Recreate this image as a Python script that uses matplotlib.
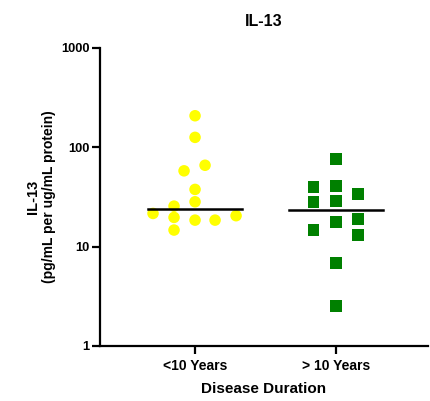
import matplotlib
matplotlib.use("Agg")
import matplotlib.pyplot as plt
import matplotlib.ticker as mticker
import numpy as np

plt.rcParams['font.family'] = ['Liberation Sans', 'DejaVu Sans']

# data
groups = ['<10 Years', '> 10 Years']
under10 = [208, 126, 58, 66, 37.7, 28.3, 25.6, 21.6, 19.7, 18.5, 18.5, 20.5, 14.7]
under10_offsets = [0, 0, -0.078, 0.071, 0, 0, -0.149, -0.298, -0.149, 0, 0.142, 0.291, -0.149]
over10 = [76, 40, 41, 33.9, 28.3, 29, 17.7, 18.8, 14.7, 13.2, 6.8, 2.5]
over10_offsets = [0, -0.16, 0, 0.156, -0.16, 0, 0, 0.156, -0.16, 0.156, 0, 0]
medians = [23.7, 23.4]

fig = plt.figure(figsize=(4.30, 4.01), dpi=100)
ax = fig.add_axes([100/430, 1 - 346/401, 328/430, 298/401])

ax.scatter(np.array(under10_offsets) + 0, under10, s=8.3**2, marker='o',
           color='#FFFF00', edgecolors='none', zorder=2)
ax.scatter(np.array(over10_offsets) + 1, over10, s=8.6**2, marker='s',
           color='#008000', edgecolors='none', zorder=2)
for i, m in enumerate(medians):
    ax.plot([i - 0.333, i + 0.333], [m, m], color='black', lw=1.8, zorder=3)

ax.set_yscale('log')
ax.set_ylim(1, 1000)
ax.set_xlim(-0.674, 1.652)
ax.yaxis.set_major_locator(mticker.FixedLocator([1, 10, 100, 1000]))
ax.yaxis.set_minor_locator(mticker.NullLocator())
ax.yaxis.set_major_formatter(mticker.FuncFormatter(lambda v, p: '%d' % v))
ax.set_xticks([0, 1])
ax.set_xticklabels(groups, fontsize=10, fontweight='bold')
for lab in ax.get_yticklabels():
    lab.set_fontsize(9.3)
    lab.set_fontweight('bold')

for s in ['top', 'right']:
    ax.spines[s].set_visible(False)
for s in ['left', 'bottom']:
    ax.spines[s].set_linewidth(1.6)
ax.tick_params(axis='both', width=1.6, length=5.5, pad=2)
ax.tick_params(axis='x', pad=4)

ax.set_title('IL-13', fontsize=11.5, fontweight='bold', pad=16)
ax.set_xlabel('Disease Duration', fontsize=11, fontweight='bold', labelpad=6)
ax.text(-0.205, 0.5, 'IL-13', transform=ax.transAxes, rotation=90,
        ha='center', va='center', fontsize=10.5, fontweight='bold')
ax.text(-0.157, 0.5, '(pg/mL per ug/mL protein)', transform=ax.transAxes,
        rotation=90, ha='center', va='center', fontsize=10, fontweight='bold')

fig.savefig('out.png', dpi=100, facecolor='white')
